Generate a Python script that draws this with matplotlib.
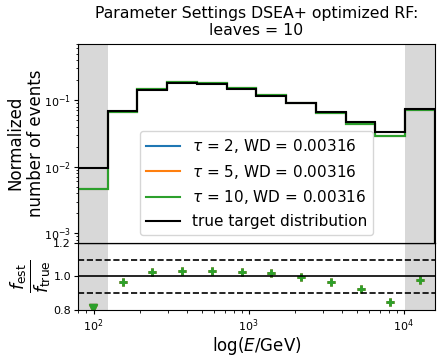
import numpy as np
import matplotlib
matplotlib.use("Agg")
import matplotlib.pyplot as plt

# bin edges in log10(E/GeV)
log_edges = np.linspace(1.9, 4.2, 13)
edges = 10 ** log_edges

# true target distribution (normalized)
f_true = [0.0095, 0.069, 0.143, 0.180, 0.172, 0.146, 0.117, 0.090, 0.066, 0.047, 0.0335, 0.073]
# ratio f_est / f_true (first bin is out of range)
ratio = [0.48, 0.969, 1.025, 1.035, 1.035, 1.029, 1.019, 0.995, 0.967, 0.923, 0.848, 0.977]

taus = [2, 5, 10]
wds = [0.00316, 0.00316, 0.00316]
colors = ["C0", "C1", "C2"]

f_true = np.array(f_true)
ratio = np.array(ratio)
f_est = f_true * ratio
centers = 10 ** ((log_edges[:-1] + log_edges[1:]) / 2)

plt.rcParams["xtick.major.size"] = 3
plt.rcParams["ytick.major.size"] = 3
plt.rcParams["xtick.minor.size"] = 1.8
plt.rcParams["ytick.minor.size"] = 1.8
plt.rcParams["xtick.major.pad"] = 2
plt.rcParams["ytick.major.pad"] = 2
plt.rcParams["xtick.minor.pad"] = 2
plt.rcParams["ytick.minor.pad"] = 2

fig = plt.figure(figsize=(4.42, 3.56), dpi=100)
ax1 = fig.add_axes([0.1765, 0.318, 0.8075, 0.559])
ax2 = fig.add_axes([0.1765, 0.129, 0.8075, 0.189], sharex=ax1)

# gray out under/overflow bins
for ax in (ax1, ax2):
    ax.axvspan(edges[0], edges[1], color="#d8d8d8", lw=0)
    ax.axvspan(edges[-2], edges[-1], color="#d8d8d8", lw=0)

for tau, wd, c in zip(taus, wds, colors):
    ax1.stairs(f_est, edges, color=c, lw=1.5,
               label=rf"$\tau$ = {tau}, WD = {wd:.5f}")
ax1.stairs(f_true, edges, color="black", lw=1.5, label="true target distribution")

ax1.set_xscale("log")
ax1.set_yscale("log")
ax1.set_xlim(edges[0], edges[-1])
ax1.set_ylim(7.2e-4, 0.70)
ax1.set_ylabel("Normalized\nnumber of events", fontsize=12)
ax1.yaxis.set_label_coords(-0.092, 0.5)
ax1.set_title("Parameter Settings DSEA+ optimized RF:\nleaves = 10", fontsize=11.3)
ax1.tick_params(labelbottom=False, labelsize=8)
ax1.legend(loc="lower center", fontsize=11, handlelength=2.2)

# ratio panel
for c in colors:
    inside = (ratio >= 0.8) & (ratio <= 1.2)
    ax2.plot(centers[inside], ratio[inside], "+", color=c, ms=6, mew=2)
    ax2.plot(centers[~inside], np.full((~inside).sum(), 0.81), "v", color=c, ms=6)
ax2.axhline(1.2, color="black", lw=1)
ax2.axhline(1.0, color="black", lw=1.2)
ax2.axhline(1.1, color="black", lw=1.2, ls="--")
ax2.axhline(0.9, color="black", lw=1.2, ls="--")
ax2.set_ylim(0.8, 1.2)
ax2.set_yticks([0.8, 1.0, 1.2])
ax2.set_ylabel(r"$\frac{f_\mathrm{est}}{f_\mathrm{true}}$", fontsize=18)
ax2.yaxis.set_label_coords(-0.068, 0.5)
ax2.set_xlabel(r"$\log(E/\mathrm{GeV})$", fontsize=12, labelpad=1)
ax2.tick_params(labelsize=8)

fig.savefig("out.png", dpi=100)
